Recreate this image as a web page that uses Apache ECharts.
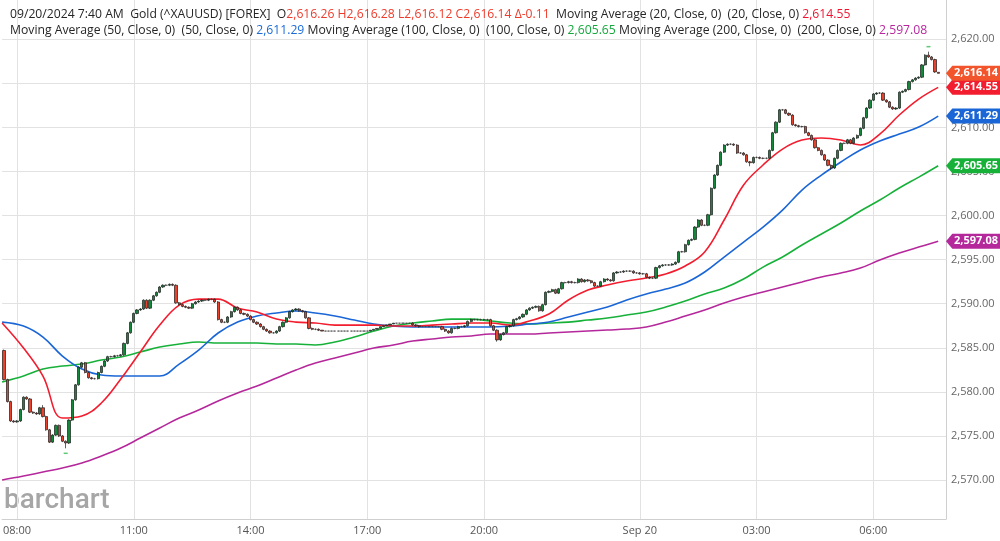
<!DOCTYPE html>
<html>
<head>
<meta charset="utf-8">
<script src="https://cdn.jsdelivr.net/npm/echarts@6/dist/echarts.min.js"></script>
<style>
html, body { margin: 0; padding: 0; background: #fff; }
#chart { width: 1000px; height: 541px; }
</style>
</head>
<body>
<div id="chart"></div>
<script>
// 5 minute candles, x in minutes from 09/19 08:00
var candleStart = -20;
var candleStep = 5;

var opens = [
2584.7,2581.4,2578.9,2576.7,2576.6,2576.7,2578.0,2579.4,2579.2,2577.7,
2577.6,2577.5,2578.2,2577.2,2575.7,2574.3,2575.1,2576.2,2575.0,2574.4,
2574.2,2576.8,2579.1,2580.8,2582.8,2583.3,2582.2,2581.6,2581.5,2581.5,
2582.2,2582.9,2583.5,2584.0,2584.0,2584.1,2584.1,2584.2,2585.5,2586.7,
2587.9,2588.9,2589.3,2589.4,2590.4,2589.5,2590.4,2590.9,2591.3,2591.9,
2592.1,2592.1,2592.2,2592.1,2590.1,2589.9,2589.7,2589.6,2589.5,2590.0,
2590.2,2590.3,2590.4,2590.4,2590.5,2590.5,2590.2,2588.2,2587.9,2587.9,
2588.5,2589.1,2589.6,2589.3,2588.9,2588.8,2588.6,2588.2,2587.9,2587.7,
2587.4,2587.1,2586.9,2586.7,2586.7,2586.9,2587.4,2587.9,2588.4,2589.1,
2589.3,2589.4,2589.2,2589.1,2588.4,2587.2,2587.1,2587.1,2587.0,2586.9,
2586.9,2586.9,2586.9,2586.9,2586.9,2586.9,2586.9,2586.9,2586.9,2586.9,
2586.9,2586.9,2586.9,2586.9,2587.0,2587.1,2587.2,2587.4,2587.5,2587.6,
2587.7,2587.8,2587.8,2587.8,2587.8,2587.8,2587.8,2587.6,2587.5,2587.4,
2587.4,2587.4,2587.4,2587.4,2587.4,2587.4,2587.1,2586.9,2586.7,2587.2,
2587.2,2587.4,2587.4,2587.5,2588.0,2588.2,2588.2,2588.2,2588.2,2588.2,
2588.2,2587.5,2587.0,2585.9,2586.5,2586.7,2587.4,2587.5,2588.2,2588.3,
2588.5,2588.8,2589.3,2589.5,2589.6,2589.7,2589.2,2589.9,2591.3,2591.4,
2591.6,2591.2,2591.7,2592.4,2592.4,2592.5,2592.4,2592.4,2592.8,2592.5,
2592.7,2592.6,2592.4,2592.0,2592.0,2592.5,2592.8,2592.7,2592.6,2593.5,
2593.6,2593.6,2593.7,2593.7,2593.7,2593.5,2593.5,2593.4,2593.4,2593.0,
2592.9,2592.9,2594.1,2594.3,2594.4,2594.4,2594.4,2594.5,2594.7,2595.9,
2595.9,2596.7,2597.2,2597.3,2598.7,2599.5,2598.9,2598.9,2600.1,2603.1,
2604.6,2605.7,2607.2,2608.0,2608.1,2608.1,2608.0,2607.1,2607.1,2606.9,
2606.1,2606.0,2606.6,2606.6,2606.5,2606.5,2606.5,2607.4,2609.4,2610.6,
2612.0,2612.0,2611.6,2611.4,2610.3,2610.2,2610.1,2610.1,2609.4,2609.1,
2608.6,2607.7,2607.4,2606.9,2606.3,2605.7,2605.4,2606.5,2607.4,2608.2,
2608.2,2608.6,2608.2,2608.8,2609.1,2609.9,2611.1,2612.2,2613.1,2613.8,
2613.9,2613.9,2613.1,2612.9,2612.3,2612.1,2612.2,2614.0,2614.1,2614.3,
2615.2,2615.4,2615.6,2615.7,2617.1,2618.2,2618.0,2617.7,2616.26
];

var closes = [
2581.4,2578.9,2576.7,2576.6,2576.7,2578.0,2579.4,2579.2,2577.7,2577.6,
2577.5,2578.2,2577.2,2575.7,2574.3,2575.1,2576.2,2575.0,2574.4,2574.2,
2576.8,2579.1,2580.8,2582.8,2583.3,2582.2,2581.6,2581.5,2581.5,2582.2,
2582.9,2583.5,2584.0,2584.0,2584.1,2584.1,2584.2,2585.5,2586.7,2587.9,
2588.9,2589.3,2589.4,2590.4,2589.5,2590.4,2590.9,2591.3,2591.9,2592.1,
2592.1,2592.2,2592.1,2590.1,2589.9,2589.7,2589.6,2589.5,2590.0,2590.2,
2590.3,2590.4,2590.4,2590.5,2590.5,2590.2,2588.2,2587.9,2587.9,2588.5,
2589.1,2589.6,2589.3,2588.9,2588.8,2588.6,2588.2,2587.9,2587.7,2587.4,
2587.1,2586.9,2586.7,2586.7,2586.9,2587.4,2587.9,2588.4,2589.1,2589.3,
2589.4,2589.2,2589.1,2588.4,2587.2,2587.1,2587.1,2587.0,2586.9,2586.9,
2586.9,2586.9,2586.9,2586.9,2586.9,2586.9,2586.9,2586.9,2586.9,2586.9,
2586.9,2586.9,2586.9,2587.0,2587.1,2587.2,2587.4,2587.5,2587.6,2587.7,
2587.8,2587.8,2587.8,2587.8,2587.8,2587.8,2587.6,2587.5,2587.4,2587.4,
2587.4,2587.4,2587.4,2587.4,2587.4,2587.1,2586.9,2586.7,2587.2,2587.2,
2587.4,2587.4,2587.5,2588.0,2588.2,2588.2,2588.2,2588.2,2588.2,2588.2,
2587.5,2587.0,2585.9,2586.5,2586.7,2587.4,2587.5,2588.2,2588.3,2588.5,
2588.8,2589.3,2589.5,2589.6,2589.7,2589.2,2589.9,2591.3,2591.4,2591.6,
2591.2,2591.7,2592.4,2592.4,2592.5,2592.4,2592.4,2592.8,2592.5,2592.7,
2592.6,2592.4,2592.0,2592.0,2592.5,2592.8,2592.7,2592.6,2593.5,2593.6,
2593.6,2593.7,2593.7,2593.7,2593.5,2593.5,2593.4,2593.4,2593.0,2592.9,
2592.9,2594.1,2594.3,2594.4,2594.4,2594.4,2594.5,2594.7,2595.9,2595.9,
2596.7,2597.2,2597.3,2598.7,2599.5,2598.9,2598.9,2600.1,2603.1,2604.6,
2605.7,2607.2,2608.0,2608.1,2608.1,2608.0,2607.1,2607.1,2606.9,2606.1,
2606.0,2606.6,2606.6,2606.5,2606.5,2606.5,2607.4,2609.4,2610.6,2612.0,
2612.0,2611.6,2611.4,2610.3,2610.2,2610.1,2610.1,2609.4,2609.1,2608.6,
2607.7,2607.4,2606.9,2606.3,2605.7,2605.4,2606.5,2607.4,2608.2,2608.2,
2608.6,2608.2,2608.8,2609.1,2609.9,2611.1,2612.2,2613.1,2613.8,2613.9,
2613.9,2613.1,2612.9,2612.3,2612.1,2612.2,2614.0,2614.1,2614.3,2615.2,
2615.4,2615.6,2615.7,2617.1,2618.2,2618.0,2617.7,2616.3,2616.14
];

var lows = [
2581.3,2578.8,2576.6,2576.5,2576.5,2576.6,2577.9,2579.1,2577.6,2577.5,
2577.4,2577.4,2577.1,2575.6,2574.2,2574.2,2575.0,2574.9,2574.3,2573.6,
2574.1,2576.7,2579.0,2580.7,2582.7,2582.1,2581.5,2581.4,2581.4,2581.4,
2582.1,2582.8,2583.4,2583.9,2583.9,2584.0,2584.0,2584.1,2585.4,2586.6,
2587.8,2588.8,2589.2,2589.3,2589.4,2589.4,2590.3,2590.8,2591.2,2591.8,
2592.0,2592.0,2592.0,2590.0,2589.8,2589.6,2589.5,2589.4,2589.4,2589.9,
2590.1,2590.2,2590.3,2590.3,2590.4,2590.1,2588.1,2587.8,2587.8,2587.8,
2588.4,2589.0,2589.2,2588.8,2588.7,2588.5,2588.1,2587.8,2587.6,2587.3,
2587.0,2586.8,2586.6,2586.6,2586.6,2586.8,2587.3,2587.8,2588.3,2589.0,
2589.2,2589.1,2589.0,2588.3,2587.1,2587.0,2587.0,2586.9,2586.9,2586.9,
2586.9,2586.9,2586.9,2586.9,2586.9,2586.9,2586.9,2586.9,2586.9,2586.9,
2586.9,2586.9,2586.9,2586.9,2587.0,2587.1,2587.2,2587.4,2587.5,2587.6,
2587.7,2587.8,2587.8,2587.8,2587.8,2587.8,2587.5,2587.4,2587.3,2587.4,
2587.4,2587.4,2587.4,2587.4,2587.4,2587.0,2586.8,2586.6,2586.6,2587.1,
2587.1,2587.3,2587.3,2587.4,2587.9,2588.1,2588.1,2588.1,2588.1,2588.1,
2587.4,2586.9,2585.7,2585.8,2586.4,2586.6,2587.3,2587.4,2588.1,2588.2,
2588.4,2588.7,2589.2,2589.4,2589.5,2589.1,2589.1,2589.8,2591.2,2591.3,
2591.1,2591.1,2591.6,2592.3,2592.3,2592.3,2592.3,2592.3,2592.4,2592.4,
2592.5,2592.3,2591.9,2591.9,2591.9,2592.4,2592.6,2592.5,2592.5,2593.4,
2593.5,2593.5,2593.6,2593.6,2593.4,2593.4,2593.3,2593.3,2592.9,2592.8,
2592.8,2592.8,2594.0,2594.2,2594.3,2594.3,2594.3,2594.4,2594.6,2595.8,
2595.8,2596.6,2597.1,2597.2,2598.6,2598.8,2598.8,2598.8,2600.0,2603.0,
2604.5,2605.6,2607.1,2607.9,2608.0,2607.9,2607.0,2607.0,2606.8,2606.0,
2605.6,2605.9,2606.5,2606.4,2606.4,2606.4,2606.4,2607.3,2609.3,2610.5,
2611.9,2611.5,2611.3,2610.2,2610.1,2610.0,2610.0,2609.3,2609.0,2608.5,
2607.6,2607.3,2606.8,2606.2,2605.6,2605.2,2605.3,2606.4,2607.3,2608.1,
2608.1,2608.1,2608.1,2608.7,2609.0,2609.8,2611.0,2612.1,2613.0,2613.7,
2613.8,2613.0,2612.8,2612.2,2612.0,2612.0,2612.1,2613.9,2614.0,2614.2,
2615.1,2615.3,2615.5,2615.6,2617.0,2617.9,2617.6,2616.2,2616.12
];

var highs = [
2584.8,2581.5,2579.0,2576.8,2576.8,2578.1,2579.5,2579.5,2579.3,2577.8,
2577.7,2578.3,2578.5,2577.3,2575.8,2575.2,2576.3,2576.3,2575.1,2574.5,
2576.9,2579.2,2580.9,2582.9,2583.4,2583.4,2582.3,2581.7,2581.6,2582.3,
2583.0,2583.6,2584.1,2584.1,2584.2,2584.2,2584.3,2585.6,2586.8,2588.0,
2589.0,2589.4,2589.5,2590.5,2590.5,2590.5,2591.0,2591.4,2592.0,2592.2,
2592.2,2592.3,2592.3,2592.2,2590.2,2590.0,2589.8,2589.7,2590.1,2590.3,
2590.4,2590.5,2590.5,2590.6,2590.6,2590.6,2590.3,2588.3,2588.0,2588.6,
2589.2,2589.7,2589.7,2589.4,2589.0,2588.9,2588.7,2588.3,2588.0,2587.8,
2587.5,2587.2,2587.0,2586.8,2587.0,2587.5,2588.0,2588.5,2589.2,2589.4,
2589.5,2589.5,2589.3,2589.2,2588.5,2587.3,2587.2,2587.2,2587.0,2586.9,
2586.9,2586.9,2586.9,2586.9,2586.9,2586.9,2586.9,2586.9,2586.9,2586.9,
2586.9,2586.9,2586.9,2587.0,2587.1,2587.2,2587.4,2587.5,2587.6,2587.7,
2587.8,2587.8,2587.8,2587.8,2587.8,2587.8,2587.9,2587.7,2587.6,2587.4,
2587.4,2587.4,2587.4,2587.4,2587.4,2587.5,2587.2,2587.0,2587.3,2587.3,
2587.5,2587.5,2587.6,2588.1,2588.3,2588.3,2588.3,2588.3,2588.3,2588.3,
2588.3,2587.6,2587.1,2586.6,2586.8,2587.5,2587.6,2588.3,2588.4,2588.6,
2588.9,2589.4,2589.6,2589.7,2589.8,2589.8,2590.0,2591.4,2591.5,2591.7,
2591.7,2591.8,2592.5,2592.5,2592.6,2592.6,2592.5,2592.9,2592.9,2592.8,
2592.8,2592.7,2592.5,2592.1,2592.6,2592.9,2592.9,2592.8,2593.6,2593.7,
2593.7,2593.8,2593.8,2593.8,2593.8,2593.6,2593.6,2593.5,2593.5,2593.1,
2593.0,2594.2,2594.4,2594.5,2594.5,2594.5,2594.6,2594.8,2596.0,2596.0,
2596.8,2597.3,2597.4,2598.8,2599.6,2599.6,2599.0,2600.2,2603.2,2604.7,
2605.8,2607.3,2608.1,2608.2,2608.2,2608.2,2608.1,2607.2,2607.2,2607.0,
2606.2,2606.7,2606.7,2606.7,2606.6,2606.6,2607.5,2609.5,2610.7,2612.1,
2612.1,2612.1,2611.7,2611.5,2610.4,2610.3,2610.2,2610.2,2609.5,2609.2,
2608.7,2607.8,2607.5,2607.0,2606.4,2605.8,2606.6,2607.5,2608.3,2608.3,
2608.7,2608.7,2608.9,2609.2,2610.0,2611.2,2612.3,2613.2,2613.9,2614.0,
2614.0,2614.0,2613.2,2613.0,2612.4,2612.3,2614.1,2614.2,2614.4,2615.3,
2615.5,2615.7,2615.8,2617.2,2618.3,2618.6,2618.1,2617.8,2616.28
];

// moving averages read every 30 minutes
var maMinutes = [-23,10,40,70,100,130,160,190,220,250,280,310,340,370,400,430,460,490,520,550,
  580,610,640,670,700,730,760,790,820,850,880,910,940,970,1000,1030,1060,1090,1120,1150,
  1180,1210,1240,1270,1300,1330,1360,1390,1420];

var ma20 = [2587.81,2584.97,2581.80,2577.03,2577.26,2578.74,2581.46,2584.52,2587.58,2589.85,
  2590.53,2590.53,2589.51,2589.06,2588.26,2587.92,2587.81,2587.58,2587.58,2587.58,
  2587.47,2587.47,2587.58,2587.70,2587.81,2587.81,2587.58,2588.04,2588.83,2590.42,
  2591.55,2592.12,2592.58,2592.92,2593.37,2594.28,2595.87,2599.50,2603.47,2605.74,
  2607.55,2608.57,2608.80,2608.57,2608.01,2609.25,2611.41,2613.22,2614.55];

var ma50 = [2587.92,2587.47,2586.22,2584.07,2582.59,2581.91,2581.80,2581.80,2581.80,2583.16,
  2584.75,2586.68,2587.92,2588.61,2588.95,2589.17,2588.95,2588.61,2588.15,2587.70,
  2587.47,2587.36,2587.36,2587.36,2587.36,2587.36,2587.47,2587.70,2587.92,2588.49,
  2589.06,2589.63,2590.42,2591.10,2591.67,2592.35,2593.60,2595.30,2597.00,2598.70,
  2600.63,2602.90,2604.60,2606.08,2607.44,2608.46,2609.25,2610.05,2611.29];

var ma100 = [2581.12,2581.80,2582.59,2582.93,2583.16,2583.61,2583.95,2584.52,2585.09,2585.43,
  2585.66,2585.54,2585.54,2585.54,2585.43,2585.43,2585.32,2585.66,2586.22,2586.90,
  2587.47,2587.81,2588.04,2588.26,2588.26,2588.04,2587.81,2587.70,2587.81,2587.92,
  2588.15,2588.38,2588.72,2589.06,2589.63,2590.31,2591.10,2591.78,2592.80,2594.16,
  2595.30,2596.66,2597.91,2599.16,2600.52,2601.77,2603.13,2604.37,2605.65];

var ma200 = [2570.00,2570.45,2570.91,2571.36,2571.93,2572.72,2573.63,2574.76,2575.90,2577.03,
  2577.94,2578.96,2579.87,2580.66,2581.57,2582.48,2583.27,2583.84,2584.41,2584.97,
  2585.32,2585.77,2586.00,2586.22,2586.34,2586.56,2586.56,2586.56,2586.68,2586.79,
  2586.90,2587.02,2587.13,2587.36,2587.92,2588.61,2589.29,2590.08,2590.76,2591.33,
  2591.90,2592.46,2593.03,2593.48,2594.05,2594.96,2595.75,2596.43,2597.08];

var tickMinutes = [0, 180, 360, 540, 720, 960, 1140, 1320];
var tickLabels = ['08:00', '11:00', '14:00', '17:00', '20:00', 'Sep 20', '03:00', '06:00'];
var priceTicks = [2570, 2575, 2580, 2585, 2590, 2595, 2600, 2605, 2610, 2615, 2620];

var xMin = -23, xMax = 1432;
var yMin = 2565.58, yMax = 2624.46;

function money(v) {
  return Number(v).toLocaleString('en-US', { minimumFractionDigits: 2, maximumFractionDigits: 2 });
}

var candleData = opens.map(function (o, i) {
  return [candleStart + candleStep * i, o, closes[i], lows[i], highs[i]];
});

var hiIdx = highs.indexOf(Math.max.apply(null, highs));
var loIdx = lows.indexOf(Math.min.apply(null, lows));

function tagItem(value, color) {
  return {
    coord: [xMax, value], value: value,
    symbol: 'path://M0,8 L7,0 L60,0 L60,16 L7,16 Z',
    symbolSize: [54, 15], symbolOffset: [27, 0],
    itemStyle: { color: color },
    label: {
      show: true, position: 'inside', offset: [3, 0], color: '#fff',
      fontWeight: 'bold', fontSize: 11, fontFamily: 'Open Sans',
      formatter: money(value)
    }
  };
}

function maSeries(name, values, color) {
  return {
    name: name,
    type: 'line',
    data: maMinutes.map(function (m, k) { return [m, values[k]]; }),
    smooth: 0.4,
    showSymbol: false,
    symbol: 'none',
    silent: true,
    z: 2,
    lineStyle: { color: color, width: 1.6 },
    markPoint: { animation: false, data: [tagItem(values[values.length - 1], color)] }
  };
}

function txt(color) {
  return { color: color, fontSize: 12.2, fontFamily: 'Open Sans', fontWeight: 'normal', lineHeight: 16 };
}

var chart = echarts.init(document.getElementById('chart'));

chart.setOption({
  animation: false,
  title: {
    left: 5, top: 2,
    text: '{k|09/20/2024 7:40 AM  Gold (^XAUUSD) [FOREX]  O}{r|2,616.26 H2,616.28 L2,616.12 C2,616.14 Δ-0.11}{k|  Moving Average (20, Close, 0)  (20, Close, 0) }{a|2,614.55}\n' +
      '{k|Moving Average (50, Close, 0)  (50, Close, 0) }{b|2,611.29}{k| Moving Average (100, Close, 0)  (100, Close, 0) }{c|2,605.65}{k| Moving Average (200, Close, 0)  (200, Close, 0) }{d|2,597.08}',
    textStyle: {
      fontSize: 12.2, fontFamily: 'Open Sans', fontWeight: 'normal', lineHeight: 16,
      rich: {
        k: txt('#262626'),
        r: txt('#ee3b2b'),
        a: txt('#f01430'),
        b: txt('#1a6ad8'),
        c: txt('#14a83c'),
        d: txt('#b8279f')
      }
    }
  },
  graphic: [{
    type: 'text', left: 4, top: 487, z: 0, silent: true,
    style: { text: 'barchart', fill: '#a6a6a6', font: '500 28px Roboto' }
  }],
  grid: { left: 0, right: 54, top: 0, bottom: 22, containLabel: false },
  xAxis: {
    type: 'value', min: xMin, max: xMax,
    axisLine: { show: true, lineStyle: { color: '#cfcfcf' } },
    axisTick: { show: false, customValues: tickMinutes },
    axisLabel: {
      customValues: tickMinutes, color: '#555', fontSize: 11, fontFamily: 'Open Sans', margin: 6,
      formatter: function (v) { var k = tickMinutes.indexOf(v); return k >= 0 ? tickLabels[k] : ''; }
    },
    splitLine: { show: true, lineStyle: { color: '#e2e2e2', width: 1 } }
  },
  yAxis: {
    type: 'value', position: 'right', min: yMin, max: yMax, scale: true,
    axisLine: { show: true, onZero: false, lineStyle: { color: '#cfcfcf' } },
    axisTick: { show: false, customValues: priceTicks },
    axisLabel: {
      customValues: priceTicks, color: '#666', fontSize: 11, fontFamily: 'Open Sans', margin: 5,
      formatter: money
    },
    splitLine: { show: true, lineStyle: { color: '#e2e2e2', width: 1 } }
  },
  series: [
    maSeries('MA200', ma200, '#b5289b'),
    maSeries('MA100', ma100, '#17b13a'),
    maSeries('MA50', ma50, '#1a66d6'),
    maSeries('MA20', ma20, '#f21d2e'),
    {
      name: 'Gold',
      type: 'candlestick',
      data: candleData,
      barWidth: 2.7,
      z: 3,
      silent: true,
      itemStyle: {
        color: '#14883a', color0: '#e8412c',
        borderColor: '#1d1d1d', borderColor0: '#1d1d1d', borderColorDoji: '#3a3a3a',
        borderWidth: 0.7
      },
      markPoint: {
        animation: false,
        data: [
          tagItem(closes[closes.length - 1], '#f2542c'),
          {
            coord: [candleStart + candleStep * hiIdx, highs[hiIdx]], value: highs[hiIdx],
            symbol: 'rect', symbolSize: [4, 1.5], symbolOffset: [0, -5],
            itemStyle: { color: '#5ec874' }, label: { show: false }
          },
          {
            coord: [candleStart + candleStep * loIdx, lows[loIdx]], value: lows[loIdx],
            symbol: 'rect', symbolSize: [4, 1.5], symbolOffset: [0, 5],
            itemStyle: { color: '#5ec874' }, label: { show: false }
          }
        ]
      }
    }
  ]
});
</script>
</body>
</html>
